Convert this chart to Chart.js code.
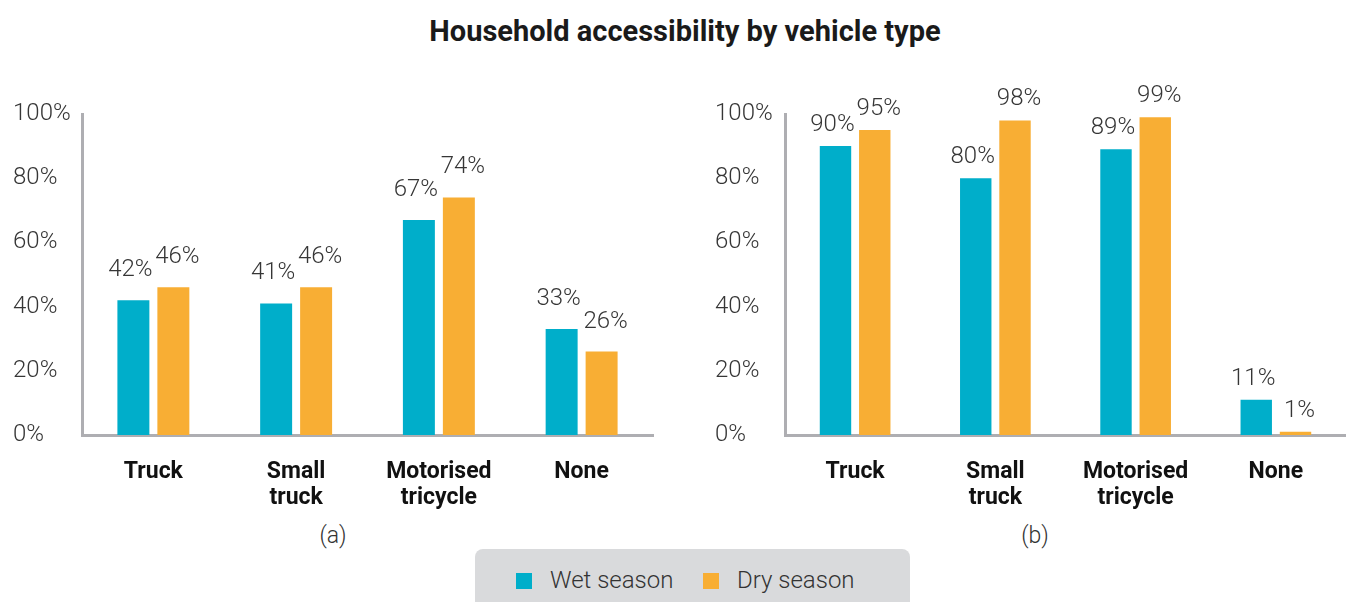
<!DOCTYPE html>
<html>
<head>
<meta charset="utf-8">
<script src="https://cdn.jsdelivr.net/npm/chart.js@4.4.1/dist/chart.umd.min.js"></script>
<style>
  body { margin: 0; background: #fff; }
  #page { position: relative; width: 1346px; height: 602px; overflow: hidden; font-family: Roboto, "Liberation Sans", sans-serif; color: #333; }
  #title { position: absolute; left: 12px; top: 14px; width: 1346px; text-align: center; font-weight: 700; font-size: 29px; color: #1a1a1a; }
  .wrap { position: absolute; top: 0; height: 520px; }
  .caption { position: absolute; top: 522px; font-size: 23px; font-weight: 300; color: #333; transform: translateX(-50%); }
  #legend { position: absolute; left: 475px; top: 549px; width: 435px; height: 70px; background: #d9dadc; border-radius: 8px; }
  .sw { position: absolute; top: 24px; width: 16px; height: 16px; }
  .lt { position: absolute; top: 17px; font-size: 24px; font-weight: 300; color: #333; }
</style>
</head>
<body>
<div id="page">
  <div id="title">Household accessibility by vehicle type</div>
  <div class="wrap" style="left:0;width:660px"><canvas id="chart-a"></canvas></div>
  <div class="wrap" style="left:690px;width:656px"><canvas id="chart-b"></canvas></div>
  <div class="caption" style="left:333px">(a)</div>
  <div class="caption" style="left:1035px">(b)</div>
  <div id="legend">
    <div class="sw" style="left:41px;background:#00aeca"></div>
    <div class="lt" style="left:75px">Wet season</div>
    <div class="sw" style="left:228px;background:#f8ae34"></div>
    <div class="lt" style="left:262px">Dry season</div>
  </div>
</div>
<script>
const categories = ["Truck", ["Small", "truck"], ["Motorised", "tricycle"], "None"];
const seriesNames = ["Wet season", "Dry season"];
const seriesColors = ["#00aeca", "#f8ae34"];

// (a)
const wetA = [42, 41, 67, 33];
const dryA = [46, 46, 74, 26];
// (b)
const wetB = [90, 80, 89, 11];
const dryB = [95, 98, 99, 1];

const yTicks = [0, 20, 40, 60, 80, 100];

const axisGrey = "#aeaeb2";
const textColor = "#363636";
const fontFamily = "Roboto, 'Liberation Sans', sans-serif";

// Etiquetas de valor encima de cada barra
const valueLabels = {
  id: "valueLabels",
  afterDatasetsDraw(chart, args, opts) {
    const { ctx } = chart;
    ctx.save();
    ctx.font = `300 24px ${fontFamily}`;
    ctx.fillStyle = textColor;
    ctx.textAlign = "center";
    ctx.textBaseline = "middle";
    chart.data.datasets.forEach((ds, i) => {
      const meta = chart.getDatasetMeta(i);
      const dx = i === 0 ? -3 : 4;
      meta.data.forEach((bar, j) => {
        ctx.fillText(`${ds.data[j]}%`, bar.x + dx, bar.y - opts.offset);
      });
    });
    ctx.restore();
  },
};

function makeChart(el, wet, dry, padLeft, axisWidth, padRight, labelOffset) {
  return new Chart(el, {
    type: "bar",
    data: {
      labels: categories,
      datasets: [wet, dry].map((data, i) => ({
        label: seriesNames[i],
        data,
        backgroundColor: seriesColors[i],
        categoryPercentage: 0.56,
        barPercentage: 0.8,
      })),
    },
    options: {
      responsive: true,
      maintainAspectRatio: false,
      animation: false,
      layout: { padding: { left: padLeft, right: padRight, top: 114, bottom: 0 } },
      plugins: {
        legend: { display: false },
        tooltip: { enabled: false },
        valueLabels: { offset: labelOffset },
      },
      scales: {
        x: {
          grid: { display: false, drawTicks: false },
          border: { display: true, color: axisGrey, width: 3 },
          ticks: {
            color: "#111",
            padding: 25,
            maxRotation: 0,
            autoSkip: false,
            font: { family: fontFamily, size: 23, weight: "bold", lineHeight: 1.1 },
          },
          afterFit: (s) => { s.height = 85; },
        },
        y: {
          min: 0,
          max: 100,
          afterBuildTicks: (s) => { s.ticks = yTicks.map((v) => ({ value: v })); },
          grid: { display: false, drawTicks: false },
          border: { display: true, color: axisGrey, width: 3 },
          ticks: {
            color: textColor,
            crossAlign: "far",
            callback: (v) => `${v}%`,
            font: { family: fontFamily, size: 24, weight: 300 },
          },
          afterFit: (s) => { s.width = axisWidth; },
        },
      },
    },
    plugins: [valueLabels],
  });
}

makeChart(document.querySelector("#chart-a"), wetA, dryA, 13, 69, 7, 30);
makeChart(document.querySelector("#chart-b"), wetB, dryB, 25, 70, 0, 21);
</script>
</body>
</html>
